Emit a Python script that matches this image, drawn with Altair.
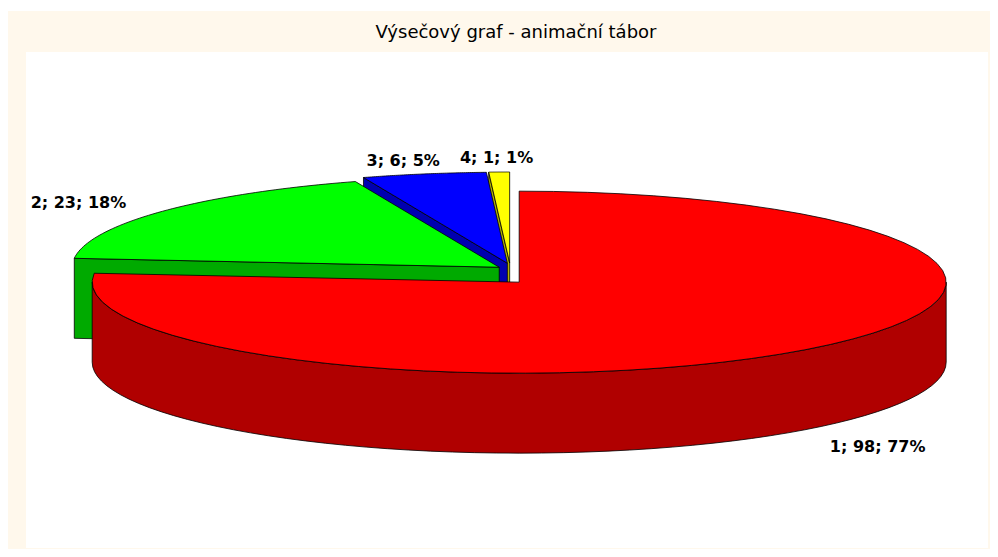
import altair as alt
import pandas as pd

# ---- data ----
categories = ["1", "2", "3", "4"]
values = [98, 23, 6, 1]
top_colors = ["#FF0000", "#00FF00", "#0000FF", "#FFFF00"]
side_colors = ["#B00000", "#00AA00", "#0000B0", "#B0B000"]
title_text = "Výsečový graf - animační tábor"

df = pd.DataFrame({"cat": categories, "value": values, "ord": list(range(len(categories)))})

# ---- style constants (3D look) ----
E = 0.032      # explode amount
K = 3.78       # vertical stretch of explode (perspective)
D = 0.879      # depth of the pie (in y units)
N = 60         # arc resolution
RX_LAB = 1.25
RY_LAB = 1.15
W, H = 982, 541

keys = [c + "_top" for c in categories] + [c + "_side" for c in categories]
fill_scale = alt.Scale(domain=keys, range=top_colors + side_colors)
xs = alt.Scale(domain=[-1, 1], range=[75, 929], nice=False, zero=False)
ys = alt.Scale(domain=[-1, 1], range=[357, 175], nice=False, zero=False)

base = (
    alt.Chart(df)
    .transform_window(cum="sum(value)", sort=[alt.SortField("ord")], frame=[None, 0])
    .transform_joinaggregate(total="sum(value)")
    .transform_calculate(a0="2*PI*(datum.cum-datum.value)/datum.total")
    .transform_calculate(a1="2*PI*datum.cum/datum.total")
    .transform_calculate(mid="(datum.a0+datum.a1)/2")
    .transform_calculate(ex=f"{E}*sin(datum.mid)")
    .transform_calculate(ey=f"{E*K}*cos(datum.mid)")
)

stroke_kw = dict(stroke="black", strokeWidth=0.8, strokeJoin="round", interpolate="linear")


def enc(chart, detail=None):
    e = dict(
        x=alt.X("px:Q", scale=xs, axis=None),
        y=alt.Y("py:Q", scale=ys, axis=None),
        fill=alt.Fill("key:N", scale=fill_scale, legend=None),
        order=alt.Order("i:Q"),
    )
    if detail:
        e["detail"] = detail
    return chart.mark_line(**stroke_kw).encode(**e)


def top_face(c):
    ch = (
        base.transform_filter(alt.datum.cat == c)
        .transform_calculate(i=f"sequence(0, {N + 3})")
        .transform_flatten(["i"])
        .transform_calculate(t=f"datum.a0 + (datum.a1-datum.a0)*(datum.i-1)/{N}")
        .transform_calculate(arc=f"datum.i>=1 && datum.i<={N + 1}")
        .transform_calculate(px="datum.ex + (datum.arc ? sin(datum.t) : 0)")
        .transform_calculate(py="datum.ey + (datum.arc ? cos(datum.t) : 0)")
        .transform_calculate(key="datum.cat + '_top'")
    )
    return enc(ch)


def wall(c):
    # only the front-facing part of the outer wall (angles between 90 and 270 degrees)
    ch = (
        base.transform_filter(alt.datum.cat == c)
        .transform_calculate(w0="max(datum.a0, PI/2)")
        .transform_calculate(w1="min(datum.a1, 3*PI/2)")
        .transform_filter("datum.w1 > datum.w0")
        .transform_calculate(i=f"sequence(0, {2 * N + 3})")
        .transform_flatten(["i"])
        .transform_calculate(k=f"datum.i<={N} ? datum.i : (datum.i<={2 * N + 1} ? {2 * N + 1}-datum.i : 0)")
        .transform_calculate(low=f"datum.i>{N} && datum.i<={2 * N + 1}")
        .transform_calculate(t=f"datum.w0 + (datum.w1-datum.w0)*datum.k/{N}")
        .transform_calculate(px="datum.ex + sin(datum.t)")
        .transform_calculate(py=f"datum.ey + cos(datum.t) - (datum.low ? {D} : 0)")
        .transform_calculate(key="datum.cat + '_side'")
    )
    return enc(ch)


def faces(c):
    # radial cut faces, only those turned towards the viewer
    ch = (
        base.transform_filter(alt.datum.cat == c)
        .transform_calculate(i="sequence(0, 10)")
        .transform_flatten(["i"])
        .transform_calculate(face="floor(datum.i/5)")
        .transform_filter("(datum.face==0 && sin(datum.a0) < -1e-6) || (datum.face==1 && sin(datum.a1) > 1e-6)")
        .transform_calculate(k="datum.i % 5")
        .transform_calculate(ang="datum.face==0 ? datum.a0 : datum.a1")
        .transform_calculate(edge="datum.k==1 || datum.k==2")
        .transform_calculate(low="datum.k==2 || datum.k==3")
        .transform_calculate(px="datum.ex + (datum.edge ? sin(datum.ang) : 0)")
        .transform_calculate(py=f"datum.ey + (datum.edge ? cos(datum.ang) : 0) - (datum.low ? {D} : 0)")
        .transform_calculate(key="datum.cat + '_side'")
    )
    return enc(ch, detail="face:N")


labels = (
    base.transform_calculate(pct="round(100*datum.value/datum.total)")
    .transform_calculate(label="datum.cat + '; ' + datum.value + '; ' + datum.pct + '%'")
    .transform_calculate(px=f"datum.ex + {RX_LAB}*sin(datum.mid)")
    .transform_calculate(py=f"datum.ey + {RY_LAB}*cos(datum.mid) - (cos(datum.mid) < 0 ? {D * 1.09} : 0)")
    .mark_text(font="DejaVu Sans", fontSize=16, fontWeight="bold", color="black",
               align="center", baseline="middle")
    .encode(x=alt.X("px:Q", scale=xs, axis=None), y=alt.Y("py:Q", scale=ys, axis=None),
            text="label:N")
)

one = pd.DataFrame({"a": [0]})
frame = alt.Chart(one).mark_rect(color="#FFF8EC").encode(
    x=alt.value(0), x2=alt.value(W), y=alt.value(3), y2=alt.value(H))
panel = alt.Chart(one).mark_rect(color="#FFFFFF").encode(
    x=alt.value(18), x2=alt.value(W - 2), y=alt.value(44), y2=alt.value(H - 1))
title = alt.Chart(one).mark_text(text=title_text, font="DejaVu Sans", fontSize=18,
                                 color="black", align="center", baseline="middle").encode(
    x=alt.value(508), y=alt.value(25))

layers = [frame, panel, title]
for c in ["4", "3", "2", "1"]:
    layers += [faces(c), wall(c), top_face(c)]
layers.append(labels)

chart = alt.layer(*layers).properties(
    width=W, height=H, padding=0, autosize=alt.AutoSizeParams(type="none"),
    background="#FFFFFF",
).configure_view(stroke=None)

chart.save("out.html", embed_options={"renderer": "svg", "actions": False})
